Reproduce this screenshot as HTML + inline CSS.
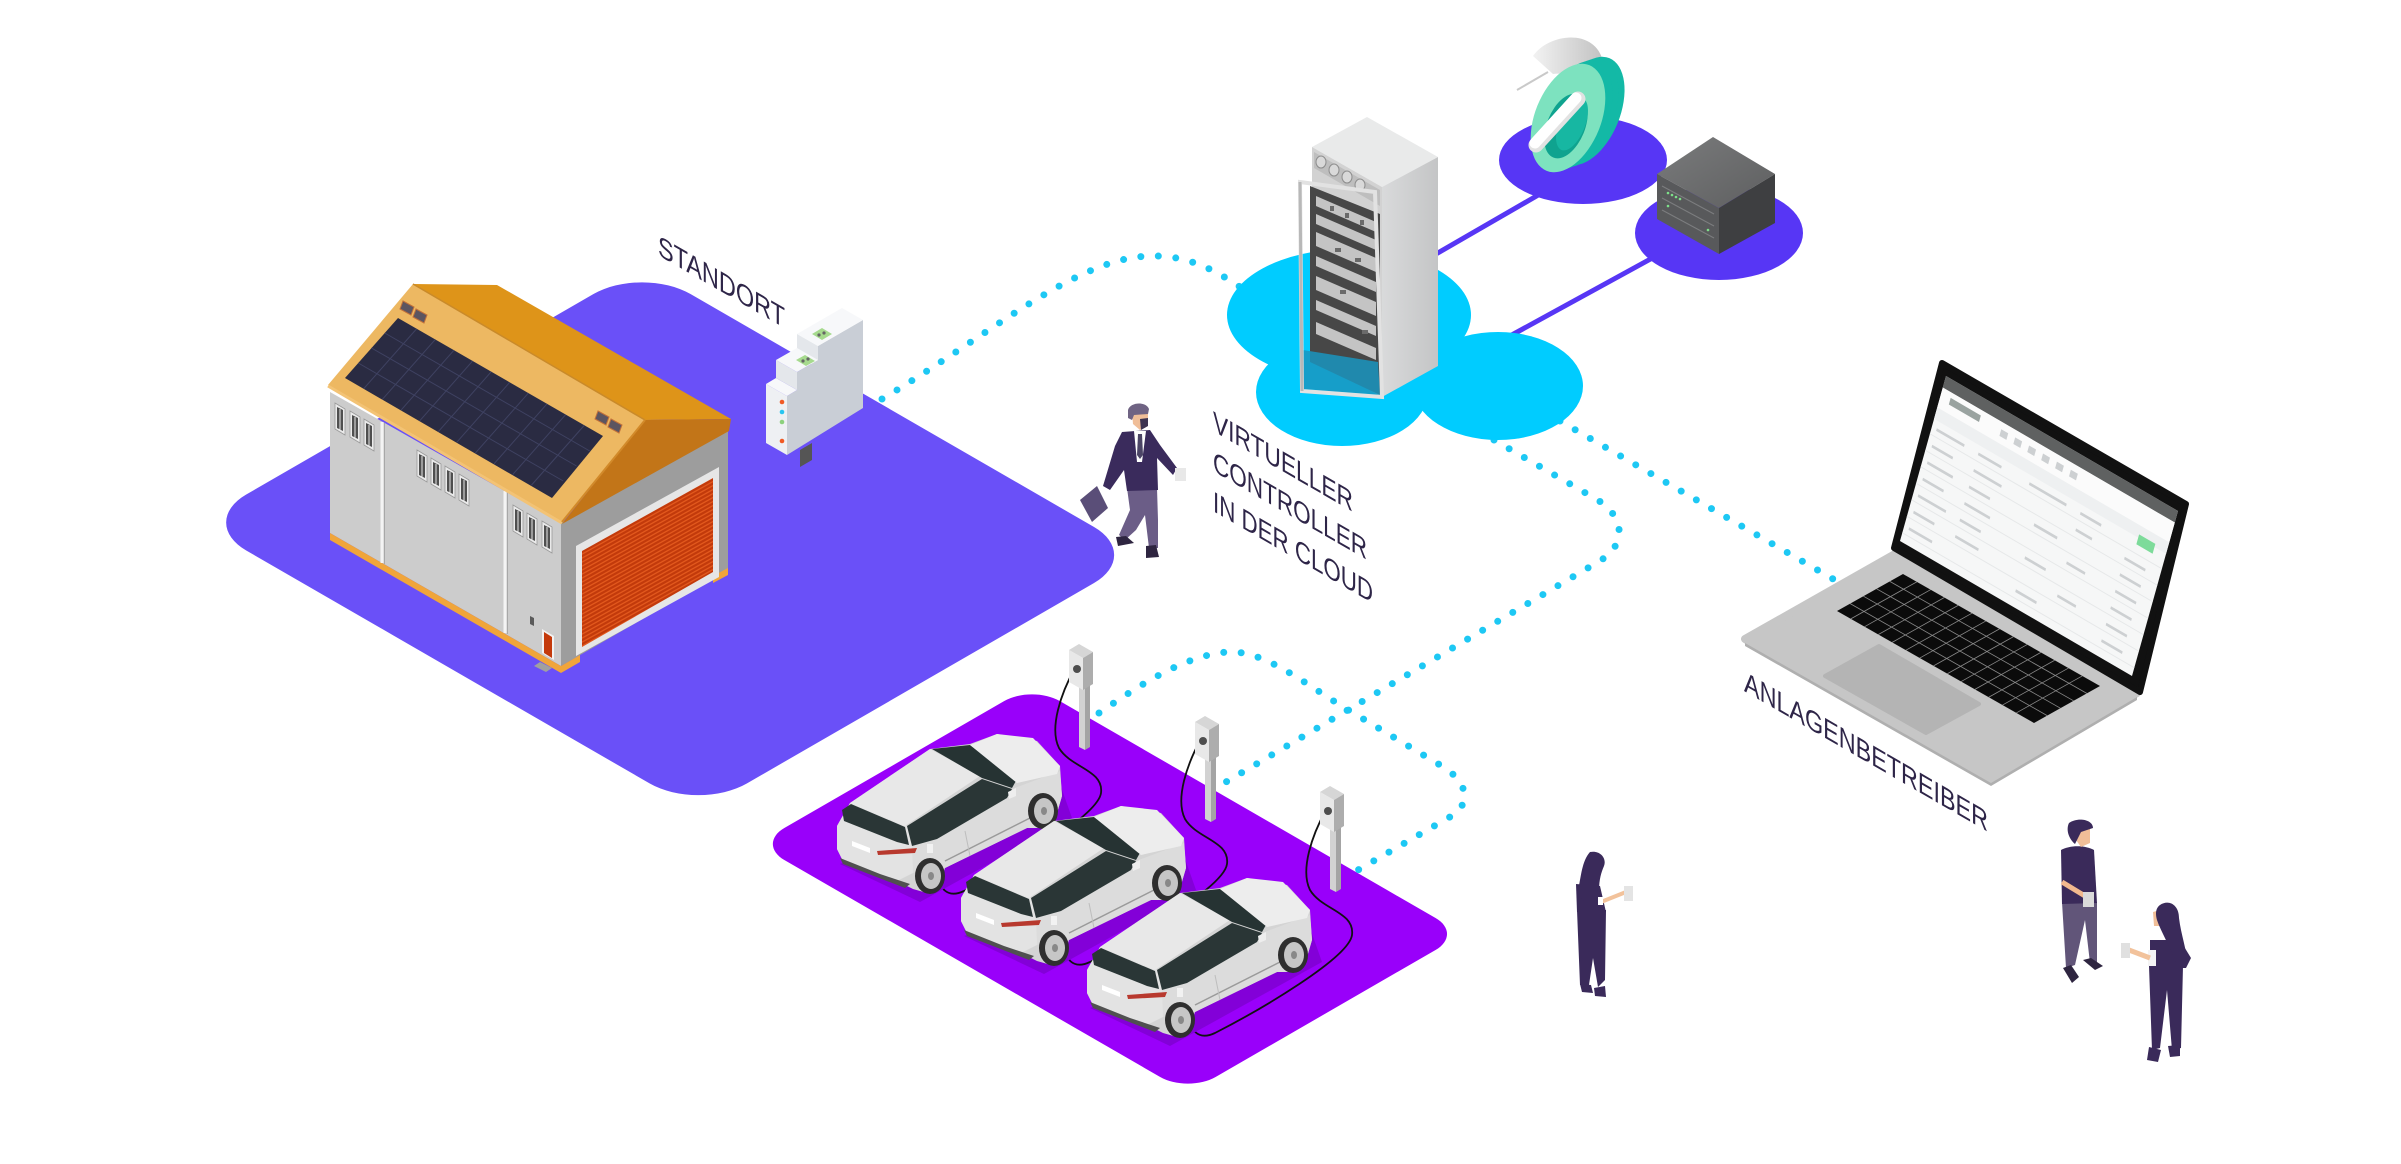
<!DOCTYPE html>
<html><head><meta charset="utf-8"><style>
html,body{margin:0;padding:0;background:#fff;}
svg{display:block}
</style></head><body>
<svg width="2401" height="1164" viewBox="0 0 2401 1164" xmlns="http://www.w3.org/2000/svg">
<defs>
<pattern id="gd" width="6" height="4" patternUnits="userSpaceOnUse" patternTransform="skewY(-29)"><rect width="6" height="4" fill="#C23A0B"/><rect width="6" height="1.5" fill="#E2581D"/></pattern>
<linearGradient id="rackR" x1="0" y1="0" x2="1" y2="0"><stop offset="0" stop-color="#D9DADB"/><stop offset="1" stop-color="#C4C5C6"/></linearGradient>
<linearGradient id="boxT" x1="0" y1="0" x2="1" y2="1"><stop offset="0" stop-color="#7A7B7C"/><stop offset="1" stop-color="#5E5F60"/></linearGradient>
<linearGradient id="grayRing" x1="0" y1="0" x2="1" y2="0"><stop offset="0" stop-color="#F2F2F2"/><stop offset="1" stop-color="#BDBDBD"/></linearGradient>
<g id="car">
  <polygon points="1090,1008 1170,1046 1322,962 1310,928" fill="#8300D8"/>
  <path d="M1087,983 L1087,970 L1100,947 L1180,893 L1220,888 L1247,878 L1287,885 L1310,910 L1312,940 L1307,957 L1293,972 L1277,972 L1195,1012 L1190,1027 L1177,1037 L1163,1033 L1147,1025 L1093,1005 L1087,993 Z" fill="#D4D4D4"/>
  <path d="M1157,970 L1232,923 L1262,933 L1310,915 L1312,940 L1307,957 L1293,972 L1277,972 L1195,1012 L1163,1017 Z" fill="#DCDCDC"/>
  <polygon points="1087,970 1100,947 1157,970 1162,990 1163,1017 1147,1025 1093,1005 1087,993" fill="#E3E3E3"/>
  <polygon points="1100,947 1180,893 1230,920 1155,970" fill="#E8E8E8"/>
  <polygon points="1182,893 1220,889 1267,923 1262,932 1232,922" fill="#263333"/>
  <polygon points="1220,889 1247,878 1283,882 1310,910 1307,918 1267,927" fill="#EDEDED"/>
  <polygon points="1157,970 1232,923 1262,933 1257,942 1187,983 1162,990" fill="#2A3636"/>
  <polygon points="1092,954 1101,948 1155,971 1159,989 1147,986 1094,965" fill="#2A3636"/>
  <polygon points="1127,995 1167,992 1165,997 1128,999" fill="#B8392E"/>
  <polygon points="1102,985 1120,992 1120,997 1102,990" fill="#FFFFFF"/>
  <polygon points="1090,1002 1130,1018 1160,1028 1155,1032 1093,1008" fill="#505050"/>
  <line x1="1195" y1="1005" x2="1280" y2="962" stroke="#9A9A9A" stroke-width="1.5"/>
  <line x1="1215" y1="975" x2="1220" y2="1000" stroke="#BDBDBD" stroke-width="1"/>
  <ellipse cx="1180" cy="1020" rx="15" ry="18" fill="#2F2F2F"/>
  <ellipse cx="1181" cy="1020" rx="10" ry="13" fill="#C6C6C6"/>
  <ellipse cx="1181" cy="1020" rx="3" ry="4" fill="#888"/>
  <ellipse cx="1293" cy="955" rx="15" ry="18" fill="#2F2F2F"/>
  <ellipse cx="1294" cy="955" rx="10" ry="13" fill="#C6C6C6"/>
  <ellipse cx="1294" cy="955" rx="3" ry="4" fill="#888"/>
  <polygon points="1258,936 1266,932 1266,940 1259,943" fill="#EEE"/>
  <rect x="1177" y="988" width="6" height="9" fill="#F2F2F2"/>
</g>
<g id="chg">
  <polygon points="1079,685 1085,688 1085,750 1079,747" fill="#D2D2D2"/>
  <polygon points="1085,688 1090,685 1090,747 1085,750" fill="#A4A4A4"/>
  <polygon points="1069,650 1079,644 1093,652 1083,658" fill="#D6D6D6"/>
  <polygon points="1069,650 1083,658 1083,690 1069,682" fill="#E8E8E8"/>
  <polygon points="1083,658 1093,652 1093,684 1083,690" fill="#ADADAD"/>
  <circle cx="1077" cy="669" r="4" fill="#4E4E4E"/>
</g>
<path id="cab" d="M1326,810 C1312,835 1300,870 1310,890 C1322,910 1355,912 1352,935 C1349,958 1260,1010 1215,1033 C1200,1040 1188,1035 1185,1000" fill="none" stroke="#111" stroke-width="1.8"/>
</defs>

<!-- platforms -->
<rect x="0" y="0" width="578" height="513" rx="56" ry="56" fill="#6A50F8" transform="matrix(0.866 0.5 -0.866 0.5 642 266)"/>
<rect x="0" y="0" width="498" height="318" rx="32" ry="32" fill="#9900FA" transform="matrix(0.866 0.5 -0.866 0.5 1032 685)"/>

<!-- dotted connectors -->
<g fill="none" stroke="#1DC8F4" stroke-width="7" stroke-linecap="round" stroke-dasharray="0 17.5">
  <path d="M882,399 C990,335 1075,258 1150,256 C1190,255 1218,272 1243,289"/>
  <path d="M1560,421 L1840,583"/>
  <path d="M1494,440 L1596,499 C1625,516 1628,545 1598,562 L1226,782"/>
  <path d="M1099,713 C1140,685 1185,655 1228,652 C1262,650 1300,680 1340,705 L1440,765 C1470,782 1472,806 1448,818 L1358,870"/>
</g>

<!-- purple nodes and links -->
<line x1="1436" y1="254" x2="1540" y2="194" stroke="#5736F5" stroke-width="5"/>
<line x1="1510" y1="336" x2="1656" y2="256" stroke="#5736F5" stroke-width="5"/>
<ellipse cx="1583" cy="160" rx="84" ry="44" fill="#5736F5"/>
<ellipse cx="1719" cy="233" rx="84" ry="47" fill="#5736F5"/>

<!-- cloud -->
<g fill="#00CCFF">
  <ellipse cx="1349" cy="315" rx="122" ry="66"/>
  <ellipse cx="1342" cy="392" rx="86" ry="54"/>
  <ellipse cx="1498" cy="386" rx="85" ry="54"/>
</g>

<!-- key icon -->
<path d="M1533,56 C1548,34 1592,28 1602,58 L1610,120 L1596,130 C1592,96 1576,70 1553,74 Z" fill="url(#grayRing)"/>
<line x1="1517" y1="90" x2="1548" y2="72" stroke="#C9C9C9" stroke-width="2"/>
<g fill="#13B9A6">
  <ellipse cx="1588" cy="111" rx="32" ry="57" transform="rotate(22 1588 111)"/>
  <ellipse cx="1582" cy="113" rx="32" ry="57" transform="rotate(22 1582 113)"/>
  <ellipse cx="1576" cy="115" rx="32" ry="57" transform="rotate(22 1576 115)"/>
</g>
<ellipse cx="1568" cy="118" rx="33" ry="57" transform="rotate(22 1568 118)" fill="#7DE2BF"/>
<ellipse cx="1566" cy="126" rx="19" ry="34" transform="rotate(22 1566 126)" fill="#0FA38F"/>
<ellipse cx="1572" cy="124" rx="13" ry="28" transform="rotate(22 1572 124)" fill="#17B7A2"/>
<line x1="1536" y1="145" x2="1578" y2="99" stroke="#E2E2E2" stroke-width="15" stroke-linecap="round"/>
<line x1="1535" y1="143" x2="1576" y2="98" stroke="#FFFFFF" stroke-width="11" stroke-linecap="round"/>

<!-- dark server box -->
<polygon points="1657,174 1713,137 1775,174 1719,208" fill="url(#boxT)"/>
<polygon points="1657,174 1719,208 1719,254 1657,219" fill="#58595B"/>
<polygon points="1719,208 1775,174 1775,223 1719,254" fill="#3E3F41"/>
<g stroke="#7C7D7F" stroke-width="1">
  <line x1="1662" y1="186" x2="1714" y2="214"/>
  <line x1="1662" y1="198" x2="1714" y2="226"/>
  <line x1="1662" y1="210" x2="1714" y2="238"/>
</g>
<g fill="#7EE08A">
  <circle cx="1668" cy="193" r="1.3"/><circle cx="1672" cy="195" r="1.3"/><circle cx="1676" cy="197" r="1.3"/><circle cx="1680" cy="199" r="1.3"/><circle cx="1668" cy="206" r="1.3"/><circle cx="1708" cy="230" r="1.3"/>
</g>

<!-- server rack -->
<polygon points="1312,147 1367,117 1438,157 1382,187" fill="#E9EAEA"/>
<polygon points="1382,187 1438,157 1438,366 1382,397" fill="url(#rackR)"/>
<polygon points="1312,147 1382,187 1382,397 1312,357" fill="#D2D2D2"/>
<polygon points="1314,152 1380,190 1380,206 1314,168" fill="#BEBEBE"/>
<g fill="#D9D9D9" stroke="#8E8E8E" stroke-width="1">
  <ellipse cx="1321" cy="162" rx="5" ry="6"/><ellipse cx="1334" cy="170" rx="5" ry="6"/><ellipse cx="1347" cy="177" rx="5" ry="6"/><ellipse cx="1360" cy="185" rx="5" ry="6"/>
</g>
<polygon points="1310,186 1380,214 1380,395 1310,362" fill="#474747"/>
<g fill="#C4C4C4">
  <polygon points="1316,196 1376,222 1376,232 1316,206"/>
  <polygon points="1316,214 1376,240 1376,250 1316,224"/>
  <polygon points="1316,232 1376,258 1376,272 1316,246"/>
  <polygon points="1316,256 1376,282 1376,292 1316,266"/>
  <polygon points="1316,276 1376,302 1376,316 1316,290"/>
  <polygon points="1316,300 1376,326 1376,336 1316,310"/>
  <polygon points="1316,322 1376,348 1376,360 1316,334"/>
</g>
<g fill="#6A6A6A">
  <rect x="1330" y="206" width="4" height="5"/><rect x="1345" y="213" width="4" height="5"/><rect x="1360" y="220" width="4" height="5"/>
  <rect x="1335" y="248" width="6" height="4"/><rect x="1355" y="258" width="6" height="4"/>
  <rect x="1340" y="290" width="6" height="4"/><rect x="1362" y="330" width="6" height="4"/>
</g>
<polygon points="1303,350 1378,362 1380,395 1303,389" fill="#1A95C0" opacity="0.85"/>
<polygon points="1300,182 1375,192 1382,397 1302,391" fill="none" stroke="#E2E2E2" stroke-width="4"/>
<line x1="1300" y1="182" x2="1302" y2="391" stroke="#B8B8B8" stroke-width="3"/>

<!-- building -->
<polygon points="330,392 561,523 561,666 330,533" fill="#CCCCCC"/>
<polygon points="561,523 728,430 728,570 561,666" fill="#9D9D9D"/>
<polygon points="330,533 561,666 561,673 330,540" fill="#F0A53A"/>
<polygon points="561,666 580,655 580,662 561,673" fill="#F0A53A"/>
<polygon points="713,576 728,568 728,575 713,583" fill="#F0A53A"/>
<g stroke="#F4F4F4" stroke-width="3"><line x1="382" y1="422" x2="382" y2="563"/><line x1="505" y1="491" x2="505" y2="633"/></g>
<g stroke="#A8A8A8" stroke-width="1"><line x1="384.5" y1="423" x2="384.5" y2="564"/><line x1="507.5" y1="492" x2="507.5" y2="634"/></g>
<polygon points="576,546 719,467 719,577 576,656" fill="#E6E6E6"/>
<polygon points="582,551 713,478 713,572 582,647" fill="url(#gd)"/>
<!-- roof -->
<polygon points="413,284 497,285 731,419 645,420" fill="#DE9419"/>
<polygon points="413,284 645,420 562,522 328,385" fill="#EDB862"/>
<polygon points="645,420 731,419 729,431 562,524" fill="#C27518"/>
<line x1="328" y1="386" x2="562" y2="523" stroke="#F3C375" stroke-width="3"/>
<line x1="413" y1="284" x2="645" y2="420" stroke="#C98A2A" stroke-width="1.5"/>
<line x1="645" y1="420" x2="562" y2="522" stroke="#D28A2A" stroke-width="2"/>
<polygon points="398,318 603,436 552,498 345,378" fill="#2A2B42"/>
<g transform="matrix(0.205 0.118 -0.053 0.060 398 318)" stroke="#3F4262" stroke-width="1">
  <line x1="91" y1="0" x2="91" y2="1000" vector-effect="non-scaling-stroke"/><line x1="182" y1="0" x2="182" y2="1000" vector-effect="non-scaling-stroke"/><line x1="273" y1="0" x2="273" y2="1000" vector-effect="non-scaling-stroke"/><line x1="364" y1="0" x2="364" y2="1000" vector-effect="non-scaling-stroke"/><line x1="455" y1="0" x2="455" y2="1000" vector-effect="non-scaling-stroke"/><line x1="545" y1="0" x2="545" y2="1000" vector-effect="non-scaling-stroke"/><line x1="636" y1="0" x2="636" y2="1000" vector-effect="non-scaling-stroke"/><line x1="727" y1="0" x2="727" y2="1000" vector-effect="non-scaling-stroke"/><line x1="818" y1="0" x2="818" y2="1000" vector-effect="non-scaling-stroke"/><line x1="909" y1="0" x2="909" y2="1000" vector-effect="non-scaling-stroke"/>
  <line x1="0" y1="250" x2="1000" y2="250" vector-effect="non-scaling-stroke"/><line x1="0" y1="500" x2="1000" y2="500" vector-effect="non-scaling-stroke"/><line x1="0" y1="750" x2="1000" y2="750" vector-effect="non-scaling-stroke"/>
</g>
<g fill="#5C5560" stroke="#C0703A" stroke-width="1">
  <polygon points="403,301 414,307 411,315 400,309"/><polygon points="416,309 427,315 424,323 413,317"/>
  <polygon points="598,411 609,417 606,425 595,419"/><polygon points="611,419 622,425 619,433 608,427"/>
</g>
<!-- windows -->
<g fill="#EAEAEA" stroke="#9A9A9A" stroke-width="0.8">
  <polygon points="335,403 345,409 345,435 335,429"/><polygon points="350,411 360,417 360,443 350,437"/><polygon points="364,419 374,425 374,451 364,445"/>
  <polygon points="417,450 427,456 427,482 417,476"/><polygon points="431,458 441,464 441,490 431,484"/><polygon points="445,466 455,472 455,498 445,492"/><polygon points="459,474 469,480 469,506 459,500"/>
  <polygon points="513,505 523,511 523,537 513,531"/><polygon points="527,513 537,519 537,545 527,539"/><polygon points="542,521 552,527 552,553 542,547"/>
</g>
<g fill="#4F4F4F">
  <polygon points="337,407 343,410 343,431 337,428"/><polygon points="352,415 358,418 358,439 352,436"/><polygon points="366,423 372,426 372,447 366,444"/>
  <polygon points="419,454 425,457 425,478 419,475"/><polygon points="433,462 439,465 439,486 433,483"/><polygon points="447,470 453,473 453,494 447,491"/><polygon points="461,478 467,481 467,502 461,499"/>
  <polygon points="515,509 521,512 521,533 515,530"/><polygon points="529,517 535,520 535,541 529,538"/><polygon points="544,525 550,528 550,549 544,546"/>
</g>
<g stroke="#EAEAEA" stroke-width="1">
  <line x1="340" y1="409" x2="340" y2="430"/><line x1="355" y1="417" x2="355" y2="438"/><line x1="369" y1="425" x2="369" y2="446"/>
  <line x1="422" y1="456" x2="422" y2="477"/><line x1="436" y1="464" x2="436" y2="485"/><line x1="450" y1="472" x2="450" y2="493"/><line x1="464" y1="480" x2="464" y2="501"/>
  <line x1="518" y1="511" x2="518" y2="532"/><line x1="532" y1="519" x2="532" y2="540"/><line x1="547" y1="527" x2="547" y2="548"/>
</g>
<polygon points="542,629 554,636 554,660 542,653" fill="#F2F2F2"/>
<polygon points="544,632 552,637 552,658 544,653" fill="#C43A0C"/>
<polygon points="530,616 534,618 534,626 530,624" fill="#5A5A5A"/>
<polygon points="540,662 552,668 546,672 534,666" fill="#A0A0A0"/>

<!-- device -->
<polygon points="787,455 787,396 797,390 797,372 818,360 818,346 863,320 863,408" fill="#C9CED6"/>
<polygon points="766,384 787,396 787,455 766,443" fill="#EEF0F3"/>
<polygon points="766,384 787,396 797,390 776,378" fill="#F7F8FA"/>
<polygon points="776,378 797,390 797,372 776,360" fill="#E4E7EB"/>
<polygon points="776,360 797,372 818,360 797,348" fill="#F7F8FA"/>
<polygon points="797,348 818,360 818,346 797,334" fill="#E4E7EB"/>
<polygon points="797,334 818,346 863,320 842,308" fill="#F7F8FA"/>
<polygon points="796,360 806,366 815,361 805,355" fill="#A6DA8E"/>
<polygon points="812,334 822,340 832,334 822,328" fill="#A6DA8E"/>
<g fill="#666"><circle cx="803" cy="361" r="1.6"/><circle cx="808" cy="359" r="1.6"/><circle cx="819" cy="335" r="1.6"/><circle cx="824" cy="333" r="1.6"/></g>
<polygon points="800,450 812,443 812,460 800,467" fill="#555"/>
<circle cx="782" cy="402" r="2.3" fill="#F15A24"/>
<circle cx="782" cy="412" r="2.3" fill="#29C5F0"/>
<circle cx="782" cy="422" r="2.3" fill="#8CD17D"/>
<circle cx="782" cy="441" r="2.3" fill="#F15A24"/>

<!-- cables and chargers -->
<use href="#cab" transform="translate(-251,-142)"/>
<use href="#cab" transform="translate(-125,-71)"/>
<use href="#cab"/>
<use href="#chg"/>
<use href="#chg" transform="translate(126,72)"/>
<use href="#chg" transform="translate(251,142)"/>

<!-- cars -->
<use href="#car" transform="translate(-250,-144)"/>
<use href="#car" transform="translate(-126,-72)"/>
<use href="#car"/>

<!-- laptop -->
<polygon points="1745,639 1895,554 2137,693 1991,779" fill="#C6C6C6" stroke="#C6C6C6" stroke-width="8" stroke-linejoin="round"/>
<polygon points="1745,643 1991,783 2137,697 2137,700 1991,786 1745,646" fill="#AFAFAF"/>
<polygon points="1825,676 1879,646 1979,704 1926,733" fill="#B4B4B4" stroke="#B4B4B4" stroke-width="4" stroke-linejoin="round"/>
<g transform="matrix(0.197 0.112 -0.066 0.037 1903 574)">
  <rect width="1000" height="1000" fill="#0B0B0B"/>
  <g stroke="#8A8A8A" stroke-width="0.8">
    <line x1="0" y1="200" x2="1000" y2="200" vector-effect="non-scaling-stroke"/><line x1="0" y1="400" x2="1000" y2="400" vector-effect="non-scaling-stroke"/><line x1="0" y1="600" x2="1000" y2="600" vector-effect="non-scaling-stroke"/><line x1="0" y1="800" x2="1000" y2="800" vector-effect="non-scaling-stroke"/>
    <line x1="70" y1="0" x2="70" y2="1000" vector-effect="non-scaling-stroke"/><line x1="140" y1="0" x2="140" y2="1000" vector-effect="non-scaling-stroke"/><line x1="210" y1="0" x2="210" y2="1000" vector-effect="non-scaling-stroke"/><line x1="280" y1="0" x2="280" y2="1000" vector-effect="non-scaling-stroke"/><line x1="350" y1="0" x2="350" y2="1000" vector-effect="non-scaling-stroke"/><line x1="420" y1="0" x2="420" y2="1000" vector-effect="non-scaling-stroke"/><line x1="490" y1="0" x2="490" y2="1000" vector-effect="non-scaling-stroke"/><line x1="560" y1="0" x2="560" y2="1000" vector-effect="non-scaling-stroke"/><line x1="630" y1="0" x2="630" y2="1000" vector-effect="non-scaling-stroke"/><line x1="700" y1="0" x2="700" y2="1000" vector-effect="non-scaling-stroke"/><line x1="770" y1="0" x2="770" y2="1000" vector-effect="non-scaling-stroke"/><line x1="840" y1="0" x2="840" y2="1000" vector-effect="non-scaling-stroke"/><line x1="910" y1="0" x2="910" y2="1000" vector-effect="non-scaling-stroke"/>
  </g>
</g>
<polygon points="1894,548 1942,363 2186,504 2140,692" fill="#111" stroke="#111" stroke-width="6" stroke-linejoin="round"/>
<g transform="matrix(0.232 0.135 -0.046 0.165 1946 376)">
  <rect width="1000" height="1000" fill="#F6F7F7"/>
  <rect width="1000" height="70" fill="#5F6161"/>
  <rect y="70" width="1000" height="120" fill="#FBFBFB"/>
  <rect y="190" width="1000" height="70" fill="#EEF0F1"/>
  <rect x="40" y="100" width="130" height="40" fill="#9AA3A0"/>
  <rect x="880" y="240" width="70" height="60" fill="#7DDB9A"/>
  <g fill="#CDD0D2">
    <rect x="260" y="110" width="30" height="40"/><rect x="320" y="110" width="30" height="40"/><rect x="380" y="110" width="30" height="40"/><rect x="440" y="110" width="30" height="40"/><rect x="500" y="110" width="30" height="40"/><rect x="560" y="110" width="30" height="40"/>
    <rect x="20" y="300" width="120" height="16"/><rect x="200" y="300" width="100" height="16"/><rect x="420" y="300" width="160" height="16"/><rect x="640" y="300" width="90" height="16"/>
    <rect x="20" y="400" width="90" height="16"/><rect x="200" y="400" width="120" height="16"/><rect x="640" y="400" width="70" height="16"/><rect x="850" y="400" width="90" height="16"/>
    <rect x="20" y="500" width="110" height="16"/><rect x="200" y="500" width="90" height="16"/><rect x="480" y="500" width="100" height="16"/><rect x="850" y="500" width="90" height="16"/>
    <rect x="20" y="600" width="90" height="16"/><rect x="200" y="600" width="110" height="16"/><rect x="640" y="600" width="80" height="16"/><rect x="850" y="600" width="90" height="16"/>
    <rect x="20" y="700" width="120" height="16"/><rect x="200" y="700" width="90" height="16"/><rect x="480" y="700" width="90" height="16"/><rect x="850" y="700" width="90" height="16"/>
    <rect x="20" y="800" width="90" height="16"/><rect x="200" y="800" width="100" height="16"/><rect x="640" y="800" width="80" height="16"/><rect x="850" y="800" width="90" height="16"/>
    <rect x="20" y="900" width="100" height="16"/><rect x="480" y="900" width="90" height="16"/><rect x="850" y="900" width="90" height="16"/>
  </g>
  <g stroke="#E6E8E9" stroke-width="1">
    <line x1="0" y1="350" x2="1000" y2="350" vector-effect="non-scaling-stroke"/><line x1="0" y1="450" x2="1000" y2="450" vector-effect="non-scaling-stroke"/><line x1="0" y1="550" x2="1000" y2="550" vector-effect="non-scaling-stroke"/><line x1="0" y1="650" x2="1000" y2="650" vector-effect="non-scaling-stroke"/><line x1="0" y1="750" x2="1000" y2="750" vector-effect="non-scaling-stroke"/><line x1="0" y1="850" x2="1000" y2="850" vector-effect="non-scaling-stroke"/><line x1="0" y1="950" x2="1000" y2="950" vector-effect="non-scaling-stroke"/>
  </g>
</g>

<!-- businessman -->
<polygon points="1080,500 1097,486 1108,508 1092,522" fill="#5A4E78"/>
<path d="M1127,488 L1157,488 L1158,520 L1158,548 L1149,548 L1145,515 L1136,530 L1125,540 L1119,535 L1130,510 Z" fill="#6B5D87"/>
<path d="M1116,537 L1126,536 L1134,543 L1118,546 Z" fill="#2E2540"/>
<path d="M1146,546 L1156,545 L1159,557 L1146,558 Z" fill="#2E2540"/>
<path d="M1122,432 L1150,430 L1160,445 L1177,468 L1173,475 L1157,458 L1158,490 L1127,491 L1124,470 L1110,490 L1103,486 L1115,446 Z" fill="#3A2B5C"/>
<polygon points="1134,431 1146,431 1142,462 1137,462" fill="#FFFFFF"/>
<polygon points="1138,434 1142,434 1143,455 1140,459 1137,455" fill="#4C4566"/>
<path d="M1132,412 L1148,411 L1148,426 L1140,430 L1133,424 Z" fill="#F0BE98"/>
<path d="M1140,419 L1148,418 L1148,426 L1141,430 Z" fill="#3E3450"/>
<path d="M1128,410 C1130,402 1146,401 1149,409 L1148,414 L1134,415 L1132,420 L1128,418 Z" fill="#6F6383"/>
<rect x="1175" y="468" width="11" height="13" fill="#E8E8E8"/>

<!-- woman 1 -->
<path d="M1577,910 L1606,910 L1605,980 L1598,987 L1593,958 L1589,985 L1580,985 Z" fill="#3A2A5A"/>
<path d="M1580,984 L1591,985 L1593,993 L1582,992 Z" fill="#3A2A5A"/>
<path d="M1594,988 L1605,986 L1606,997 L1595,996 Z" fill="#3A2A5A"/>
<path d="M1576,884 L1600,886 L1606,912 L1577,912 Z" fill="#3A2A5A"/>
<line x1="1601" y1="902" x2="1626" y2="892" stroke="#F2C29B" stroke-width="4"/>
<rect x="1598" y="897" width="5" height="8" fill="#FFFFFF"/>
<path d="M1590,852 C1600,850 1607,858 1604,866 C1601,873 1599,880 1599,892 L1596,905 C1590,905 1582,900 1577,895 C1581,880 1581,862 1590,852 Z" fill="#3A2A5A"/>
<rect x="1624" y="886" width="9" height="15" fill="#E4E4E4"/>

<!-- man -->
<path d="M2062,902 L2097,902 L2097,962 L2090,963 L2085,920 L2075,965 L2066,968 Z" fill="#615579"/>
<path d="M2063,968 L2071,965 L2079,977 L2072,983 Z" fill="#2E2540"/>
<path d="M2083,960 L2091,958 L2103,966 L2095,970 Z" fill="#2E2540"/>
<path d="M2061,850 C2070,845 2085,845 2094,850 L2097,903 L2062,904 Z" fill="#3A2A5A"/>
<path d="M2076,829 L2090,827 L2090,843 L2081,847 L2076,840 Z" fill="#F0BE98"/>
<path d="M2069,823 C2077,817 2093,819 2093,828 L2081,832 L2075,844 C2068,838 2066,829 2069,823 Z" fill="#3A2A5A"/>
<line x1="2062" y1="882" x2="2085" y2="896" stroke="#F2B98E" stroke-width="5"/>
<rect x="2083" y="892" width="11" height="15" fill="#DADADA"/>

<!-- woman 2 -->
<path d="M2149,966 L2183,966 L2181,1048 L2172,1050 L2167,990 L2160,1048 L2152,1050 Z" fill="#3A2A5A"/>
<path d="M2149,1047 L2161,1050 L2158,1062 L2147,1060 Z" fill="#3A2A5A"/>
<path d="M2168,1046 L2180,1045 L2180,1056 L2170,1057 Z" fill="#3A2A5A"/>
<path d="M2150,940 L2180,940 L2191,958 L2186,968 L2150,968 Z" fill="#3A2A5A"/>
<rect x="2148" y="950" width="8" height="16" fill="#F4F4F4"/>
<line x1="2150" y1="958" x2="2129" y2="950" stroke="#F2C29B" stroke-width="5"/>
<path d="M2153,912 L2160,910 L2160,926 L2154,926 Z" fill="#F0BE98"/>
<path d="M2160,905 C2169,899 2179,905 2179,918 C2181,935 2187,950 2187,963 L2176,963 C2170,946 2161,932 2157,920 C2155,913 2156,908 2160,905 Z" fill="#3A2A5A"/>
<rect x="2121" y="943" width="9" height="15" fill="#E0E0E0"/>

<!-- labels -->
<g font-family="'Liberation Sans', sans-serif" fill="#2E2548" font-size="29">
  <text transform="translate(658,255) skewY(30)" textLength="127" lengthAdjust="spacingAndGlyphs">STANDORT</text>
  <text transform="translate(1213,431) skewY(30)" textLength="140" lengthAdjust="spacingAndGlyphs">VIRTUELLER</text>
  <text transform="translate(1213,471) skewY(30)" textLength="154" lengthAdjust="spacingAndGlyphs">CONTROLLER</text>
  <text transform="translate(1213,511) skewY(30)" textLength="160" lengthAdjust="spacingAndGlyphs">IN DER CLOUD</text>
  <text transform="translate(1744,691) skewY(30)" textLength="244" lengthAdjust="spacingAndGlyphs">ANLAGENBETREIBER</text>
</g>
</svg>
</body></html>
